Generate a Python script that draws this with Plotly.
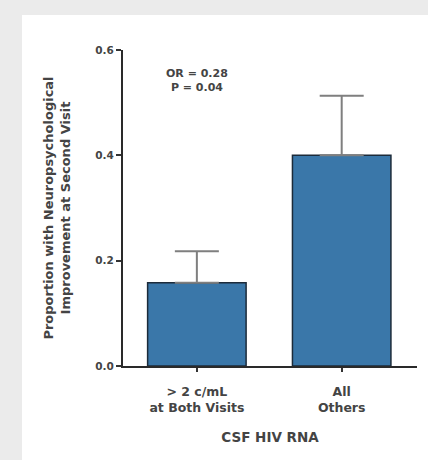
import plotly.graph_objects as go

categories = ["> 2 c/mL<br>at Both Visits", "All<br>Others"]
values = [0.158, 0.400]
err_plus = [0.060, 0.113]
y_ticks = [0.0, 0.2, 0.4, 0.6]
y_tick_labels = ["0.0", "0.2", "0.4", "0.6"]

font = "DejaVu Sans, Liberation Sans, Arial, sans-serif"
txt = "#444444"

fig = go.Figure()
fig.add_trace(go.Bar(
    x=[0, 1], y=values,
    width=0.68,
    marker=dict(color="#3a77a9", line=dict(color="#1c2b3a", width=1.5)),
    error_y=dict(type="data", symmetric=False, array=err_plus, arrayminus=[0, 0],
                 color="#7f7f7f", thickness=2, width=22),
))

fig.update_layout(
    width=428, height=460,
    margin=dict(l=123, r=11, t=50, b=94),
    paper_bgcolor="#ebebeb",
    plot_bgcolor="white",
    showlegend=False,
    font=dict(family=font, color=txt, weight="bold"),
    shapes=[dict(type="rect", xref="paper", yref="paper",
                 x0=-0.3435, x1=1.05, y0=-0.31, y1=1.1108,
                 fillcolor="white", line=dict(width=0), layer="below")],
    xaxis=dict(
        range=[-0.51, 1.52],
        tickmode="array", tickvals=[0, 1], ticktext=categories,
        ticks="outside", ticklen=4, tickwidth=1.5, tickcolor="#333",
        ticklabelstandoff=9,
        showline=True, linecolor="#2a2a2a", linewidth=2,
        showgrid=False, zeroline=False,
        tickfont=dict(size=12.5, color=txt, family=font, weight="bold"),
        title=dict(text="CSF HIV RNA", font=dict(size=13.5, color=txt, family=font, weight="bold"), standoff=18),
    ),
    yaxis=dict(
        range=[0, 0.6],
        tickmode="array", tickvals=y_ticks, ticktext=y_tick_labels,
        ticks="outside", ticklen=5, tickwidth=1.5, tickcolor="#333",
        showline=True, linecolor="#2a2a2a", linewidth=2,
        showgrid=False, zeroline=False,
        tickfont=dict(size=10.5, color=txt, family=font, weight="bold"),
        title=dict(text="Proportion with Neuropsychological<br>Improvement at Second Visit",
                   font=dict(size=13, color=txt, family=font, weight="bold"), standoff=22),
    ),
    annotations=[dict(x=0, y=0.543, xref="x", yref="y",
                      text="OR = 0.28<br>P = 0.04", showarrow=False,
                      font=dict(size=11, color=txt, family=font, weight="bold"), yanchor="middle")],
)

fig.write_html(
    "out.html",
    config={"displayModeBar": False},
    post_script="document.body.style.margin='0';document.body.style.overflow='hidden';document.body.style.background='#ebebeb';",
)
